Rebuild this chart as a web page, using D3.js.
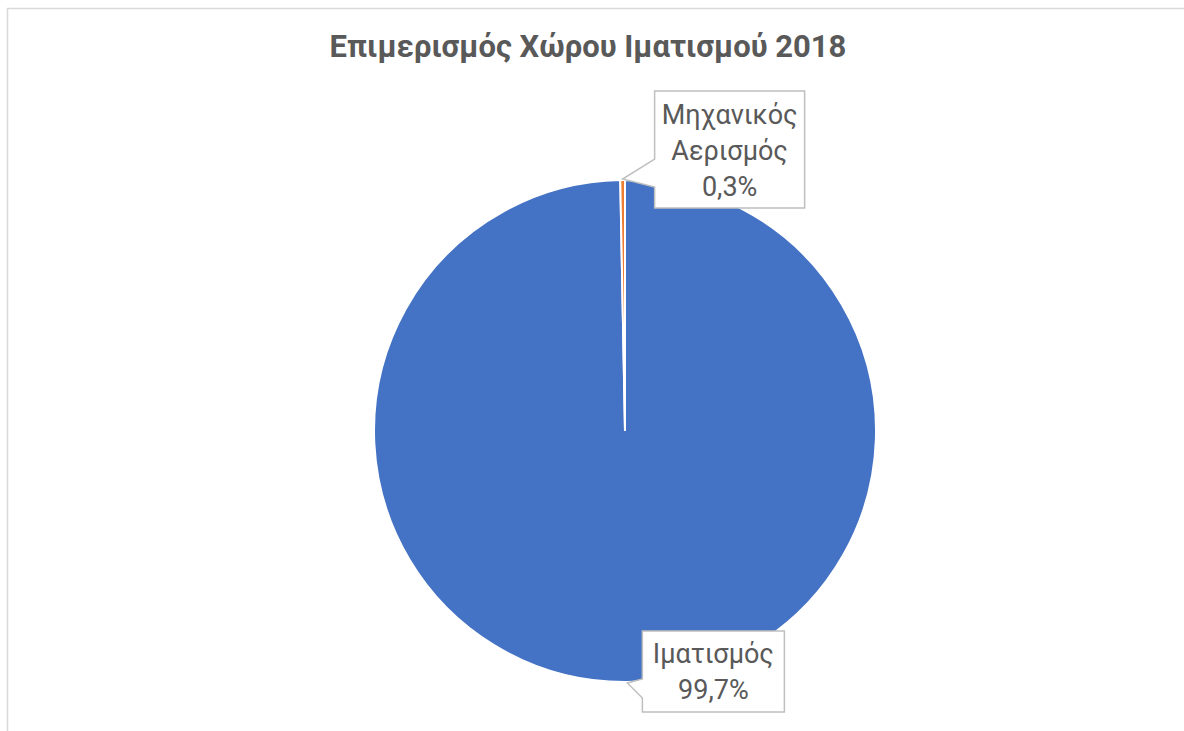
<!DOCTYPE html>
<html>
<head>
<meta charset="utf-8">
<script src="https://cdn.jsdelivr.net/npm/d3@7"></script>
<style>
  body { margin: 0; background: #fff; }
  text { font-family: Roboto, "Open Sans", sans-serif; }
</style>
</head>
<body>
<div id="container"></div>
<script>
// data declaration
const categories = ["Ιματισμός", "Μηχανικός Αερισμός"];
const values = [99.7, 0.3];
const labels = [["Ιματισμός", "99,7%"], ["Μηχανικός", "Αερισμός", "0,3%"]];
const colors = ["#4472C4", "#ED7D31"];
const title = "Επιμερισμός Χώρου Ιματισμού 2018";

const w = 1184;
const h = 731;
const cx = 625, cy = 431, radius = 251;

const dataset = categories.map((c, i) => ({ name: c, value: values[i], label: labels[i], color: colors[i] }));

const svg = d3.select("#container").append("svg").attr("width", w).attr("height", h);

// chart border
svg.append("rect")
  .attr("x", 7.5).attr("y", 8.5)
  .attr("width", w + 20).attr("height", h + 20)
  .style("fill", "#fff")
  .style("stroke", "#d9d9d9")
  .style("stroke-width", 1.5);

// title
svg.append("text")
  .attr("x", 588).attr("y", 57)
  .attr("text-anchor", "middle")
  .style("font-size", "31px")
  .style("font-weight", "bold")
  .style("fill", "#595959")
  .text(title);

// pie
const pie = d3.pie().sort(null).value(d => d.value);
const arc = d3.arc().innerRadius(0).outerRadius(radius);
const arcs = pie(dataset);

const g = svg.append("g").attr("transform", "translate(" + cx + "," + cy + ")");

g.selectAll("path")
  .data(arcs)
  .enter()
  .append("path")
  .attr("d", arc)
  .style("fill", d => d.data.color)
  .style("stroke", "#fff")
  .style("stroke-width", 2);

// callout labels
const boxes = [
  { dx: 15, dy: -52, bw: 142, bh: 81, tipDy: [-4, 15] },   // Ιματισμός
  { dx: 32, dy: -88, bw: 150, bh: 117, tipDy: [-20, 8] }   // Μηχανικός Αερισμός
];

arcs.forEach((a, i) => {
  const mid = (a.startAngle + a.endAngle) / 2;
  const tx = Math.sin(mid) * (radius + 1);
  const ty = -Math.cos(mid) * (radius + 1);
  const b = boxes[i];
  const x0 = tx + b.dx, y0 = ty + b.dy, x1 = x0 + b.bw, y1 = y0 + b.bh;
  const pts = [
    [x0, y0], [x1, y0], [x1, y1], [x0, y1],
    [x0, ty + b.tipDy[1]], [tx, ty], [x0, ty + b.tipDy[0]]
  ];
  g.append("path")
    .attr("d", d3.line()(pts) + "Z")
    .style("fill", "#fff")
    .style("stroke", "#bfbfbf")
    .style("stroke-width", 1.5);

  const lineH = 36;
  const n = a.data.label.length;
  const textTop = (y0 + y1) / 2 - (n - 1) * lineH / 2;
  g.append("text")
    .attr("text-anchor", "middle")
    .style("font-size", "27px")
    .style("fill", "#595959")
    .selectAll("tspan")
    .data(a.data.label)
    .enter()
    .append("tspan")
    .attr("x", (x0 + x1) / 2)
    .attr("y", (d, k) => textTop + k * lineH + 10)
    .text(d => d);
});
</script>
</body>
</html>
